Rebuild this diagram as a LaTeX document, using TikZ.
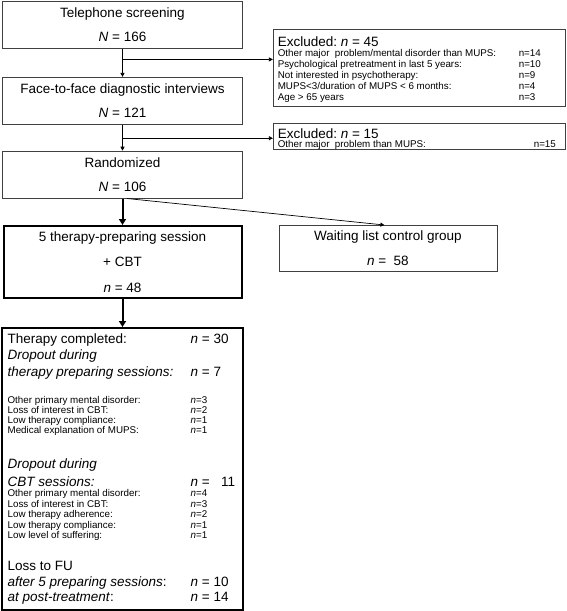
\documentclass[tikz,border=0pt]{standalone}
\usepackage{fontspec}
\setmainfont{Liberation Sans}
\usepackage{tikz}
\usetikzlibrary{arrows.meta, positioning, calc}

\frenchspacing
\newcommand\hdfont{\fontsize{13.5}{16.5}\selectfont}
\newcommand\smfont{\fontsize{9.8}{10}\selectfont}
\newlength\rowwd
% one text row: #1 = distance from the previous baseline
\newcommand\rowat[2]{\vbox to #1{\vfil\hbox to \rowwd{\raisebox{0pt}[0pt][0pt]{#2}\hfil}}}
\newcommand\rows[2]{\vbox{\offinterlineskip\setlength\rowwd{#1}#2}}
\newcommand\exrow[3][241pt]{\makebox[#1][l]{#2}#3}
\newcommand\rrow[2]{\makebox[183pt][l]{#1}#2}

\begin{document}
\begin{tikzpicture}[
  box/.style={
    rectangle, draw=black!75, line width=0.8pt,
    minimum width=240pt, minimum height=47pt,
    align=center, font=\hdfont, inner sep=0pt
  },
  thickbox/.style={
    rectangle, draw=black, line width=2pt,
    minimum width=238pt, align=center, font=\hdfont, inner sep=0pt
  },
  exbox/.style={
    rectangle, draw=black!75, line width=0.8pt,
    minimum width=292pt, inner xsep=4.5pt, inner ysep=0pt,
    font=\hdfont
  },
  arr/.style={-{Triangle[length=4pt,width=4pt]}, line width=0.7pt, black},
  bigarr/.style={-{Triangle[length=6pt,width=7pt]}, line width=2pt, black}
]
\useasboundingbox (0,0) rectangle (567pt,-611pt);

%% Main column
\node[box] (screen) at (122.5pt,-25pt) {%
  Telephone screening\\[7.5pt]
  \textit{N} = 166
};
\node[box, below=28pt of screen] (interview) {%
  Face-to-face diagnostic interviews\\[7.5pt]
  \textit{N} = 121
};
\node[box, below=26pt of interview] (random) {%
  Randomized\\[7.5pt]
  \textit{N} = 106
};
\node[thickbox, minimum height=72pt, below=26.5pt of random] (therapy) {%
  5 therapy-preparing session\\[9pt]
  + CBT\\[9pt]
  \textit{n} = 48
};

%% Outcome of the treatment arm
\node[thickbox, minimum height=282pt, inner xsep=6pt, below=28pt of therapy] (outcome) {%
  \rows{226pt}{%
    \rowat{15pt}{\rrow{Therapy completed:}{\textit{n} = 30}}
    \rowat{16pt}{\textit{Dropout during}}
    \rowat{17pt}{\rrow{\textit{therapy preparing sessions:}}{\textit{n} = 7}}
    \rowat{27.5pt}{\smfont\rrow{Other primary mental disorder:}{\textit{n}=3}}
    \rowat{10pt}{\smfont\rrow{Loss of interest in CBT:}{\textit{n}=2}}
    \rowat{10pt}{\smfont\rrow{Low therapy compliance:}{\textit{n}=1}}
    \rowat{10pt}{\smfont\rrow{Medical explanation of MUPS:}{\textit{n}=1}}
    \rowat{35pt}{\textit{Dropout during}}
    \rowat{18pt}{\rrow{\textit{CBT sessions:}}{\textit{n} =\ \ \ 11}}
    \rowat{10pt}{\smfont\rrow{Other primary mental disorder:}{\textit{n}=4}}
    \rowat{10.5pt}{\smfont\rrow{Loss of interest in CBT:}{\textit{n}=3}}
    \rowat{10.5pt}{\smfont\rrow{Low therapy adherence:}{\textit{n}=2}}
    \rowat{10.5pt}{\smfont\rrow{Low therapy compliance:}{\textit{n}=1}}
    \rowat{10.5pt}{\smfont\rrow{Low level of suffering:}{\textit{n}=1}}
    \rowat{32pt}{Loss to FU}
    \rowat{16pt}{\rrow{\textit{after 5 preparing sessions}:}{\textit{n} = 10}}
    \rowat{15pt}{\rrow{\textit{at post-treatment}:}{\textit{n} = 14}}
    \rowat{8.5pt}{}}
};

%% Control arm
\node[box, minimum width=218pt, minimum height=46pt,
      right=36pt of therapy.north east, anchor=north west] (waitlist) {%
  Waiting list control group\\[8.5pt]
  \textit{n} =\ \ 58
};

%% Exclusions (right column)
\node[exbox, minimum height=77pt,
      below right=28pt and 30pt of screen.north east] (excl1) {%
  \rows{283pt}{%
    \rowat{17.3pt}{Excluded: \textit{n} = 45}
    \rowat{9.7pt}{\smfont\exrow{Other major\ \ problem/mental disorder than MUPS:}{n=14}}
    \rowat{11pt}{\smfont\exrow{Psychological pretreatment in last 5 years:}{n=10}}
    \rowat{11pt}{\smfont\exrow{Not interested in psychotherapy:}{n=9}}
    \rowat{11pt}{\smfont\exrow{MUPS<3/duration of MUPS < 6 months:}{n=4}}
    \rowat{11pt}{\smfont\exrow{Age > 65 years}{n=3}}
    \rowat{6pt}{}}
};
\node[exbox, minimum height=26pt, below=16pt of excl1] (excl2) {%
  \rows{283pt}{%
    \rowat{15.3pt}{Excluded: \textit{n} = 15}
    \rowat{8.7pt}{\smfont\exrow[256pt]{Other major\ \ problem than MUPS:}{n=15}}
    \rowat{2pt}{}}
};

%% Flow arrows
\coordinate (b1) at ($(screen.south)!0.375!(interview.north)$);
\coordinate (b2) at ($(interview.south)!0.52!(random.north)$);
\draw[arr] (screen) -- (interview);
\draw[arr] (b1) -- (b1 -| excl1.west);
\draw[arr] (interview) -- (random);
\draw[arr] (b2) -- (b2 -| excl2.west);
\draw[bigarr] (random) -- (therapy);
\draw[arr] ([xshift=4.5pt]random.south) -- ([xshift=-3.5pt]waitlist.north);
\draw[bigarr] (therapy) -- (outcome);

\end{tikzpicture}
\end{document}
